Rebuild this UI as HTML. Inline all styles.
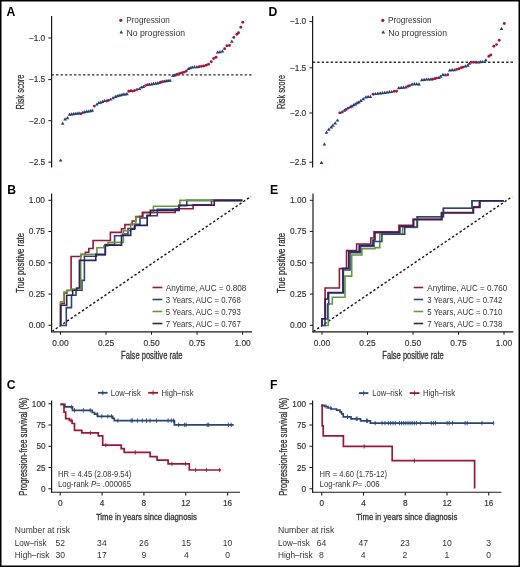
<!DOCTYPE html>
<html><head><meta charset="utf-8"><title>Figure</title>
<style>
html,body{margin:0;padding:0;background:#fff;}
body{width:520px;height:567px;overflow:hidden;}
svg{display:block;font-family:"Liberation Sans", sans-serif;will-change:transform;}
</style></head>
<body>
<svg width="520" height="567" viewBox="0 0 520 567">
<rect width="520" height="567" fill="#fff"/>
<text x="6.6" y="15.8" font-size="12.2" fill="#000" font-weight="bold">A</text>
<text x="268.5" y="15.8" font-size="12.2" fill="#000" font-weight="bold">D</text>
<text x="7.2" y="193.8" font-size="12.2" fill="#000" font-weight="bold">B</text>
<text x="270.1" y="193.7" font-size="12.2" fill="#000" font-weight="bold">E</text>
<text x="6.8" y="388.7" font-size="12.2" fill="#000" font-weight="bold">C</text>
<text x="270.1" y="388.7" font-size="12.2" fill="#000" font-weight="bold">F</text>
<line x1="51.6" y1="16" x2="51.6" y2="167.5" stroke="#1a1a1a" stroke-width="1.2"/>
<line x1="48.3" y1="38" x2="51.5" y2="38" stroke="#1a1a1a" stroke-width="1"/>
<text x="45.2" y="40.8" font-size="8.8" text-anchor="end" fill="#333" font-weight="normal" textLength="16.4" lengthAdjust="spacingAndGlyphs" stroke="#333" stroke-width="0.18">−1.0</text>
<line x1="48.3" y1="79.6" x2="51.5" y2="79.6" stroke="#1a1a1a" stroke-width="1"/>
<text x="45.2" y="82.4" font-size="8.8" text-anchor="end" fill="#333" font-weight="normal" textLength="16.4" lengthAdjust="spacingAndGlyphs" stroke="#333" stroke-width="0.18">−1.5</text>
<line x1="48.3" y1="120.7" x2="51.5" y2="120.7" stroke="#1a1a1a" stroke-width="1"/>
<text x="45.2" y="123.5" font-size="8.8" text-anchor="end" fill="#333" font-weight="normal" textLength="16.4" lengthAdjust="spacingAndGlyphs" stroke="#333" stroke-width="0.18">−2.0</text>
<line x1="48.3" y1="162.2" x2="51.5" y2="162.2" stroke="#1a1a1a" stroke-width="1"/>
<text x="45.2" y="165.0" font-size="8.8" text-anchor="end" fill="#333" font-weight="normal" textLength="16.4" lengthAdjust="spacingAndGlyphs" stroke="#333" stroke-width="0.18">−2.5</text>
<text x="24.0" y="92" font-size="10.3" text-anchor="middle" fill="#333" font-weight="normal" textLength="35" lengthAdjust="spacingAndGlyphs" transform="rotate(-90 24.0 92)" stroke="#333" stroke-width="0.3">Risk score</text>
<line x1="51.56" y1="74.85" x2="252.5" y2="74.85" stroke="#2c2c2c" stroke-width="1.45" stroke-dasharray="2.4 2.09"/>
<circle cx="120.8" cy="20.3" r="1.6" fill="#A3173C"/>
<text x="126.2" y="23.3" font-size="8.2" text-anchor="start" fill="#333" font-weight="normal" textLength="43.6" lengthAdjust="spacingAndGlyphs">Progression</text>
<path d="M121.3,30.2 L123.1,33.4 L119.5,33.4 Z" fill="#263F72"/>
<text x="126.4" y="35.5" font-size="8.2" text-anchor="start" fill="#333" font-weight="normal" textLength="58.8" lengthAdjust="spacingAndGlyphs">No progression</text>
<path d="M60.6,158.4 L62.5,161.6 L58.8,161.6 Z" fill="#263F72"/>
<path d="M62.7,121.6 L64.5,124.8 L60.9,124.8 Z" fill="#263F72"/>
<path d="M65.1,117.3 L66.9,120.5 L63.2,120.5 Z" fill="#263F72"/>
<path d="M67.5,116.1 L69.3,119.3 L65.7,119.3 Z" fill="#263F72"/>
<path d="M69.5,112.5 L71.3,115.7 L67.7,115.7 Z" fill="#263F72"/>
<path d="M71.4,112.3 L73.2,115.5 L69.6,115.5 Z" fill="#263F72"/>
<path d="M73.3,112.0 L75.1,115.2 L71.5,115.2 Z" fill="#263F72"/>
<path d="M75.2,111.8 L77.0,115.0 L73.4,115.0 Z" fill="#263F72"/>
<path d="M77.2,111.5 L79.0,114.7 L75.4,114.7 Z" fill="#263F72"/>
<path d="M79.1,111.3 L80.9,114.5 L77.2,114.5 Z" fill="#263F72"/>
<circle cx="81.0" cy="113.8" r="1.45" fill="#A3173C"/>
<path d="M82.9,110.5 L84.8,113.7 L81.1,113.7 Z" fill="#263F72"/>
<path d="M84.8,110.1 L86.6,113.3 L83.0,113.3 Z" fill="#263F72"/>
<path d="M86.8,109.6 L88.6,112.8 L85.0,112.8 Z" fill="#263F72"/>
<path d="M88.7,109.4 L90.5,112.6 L86.9,112.6 Z" fill="#263F72"/>
<path d="M90.6,109.1 L92.4,112.3 L88.8,112.3 Z" fill="#263F72"/>
<path d="M92.3,108.6 L94.1,111.8 L90.5,111.8 Z" fill="#263F72"/>
<circle cx="94.3" cy="106.1" r="1.45" fill="#A3173C"/>
<path d="M96.9,102.4 L98.8,105.6 L95.1,105.6 Z" fill="#263F72"/>
<path d="M98.8,100.9 L100.6,104.1 L97.0,104.1 Z" fill="#263F72"/>
<path d="M100.7,100.5 L102.5,103.7 L98.9,103.7 Z" fill="#263F72"/>
<path d="M102.6,99.8 L104.4,103.0 L100.8,103.0 Z" fill="#263F72"/>
<path d="M104.5,98.9 L106.3,102.1 L102.7,102.1 Z" fill="#263F72"/>
<circle cx="106.7" cy="101.0" r="1.45" fill="#A3173C"/>
<circle cx="108.4" cy="100.4" r="1.45" fill="#A3173C"/>
<path d="M110.6,97.4 L112.4,100.6 L108.8,100.6 Z" fill="#263F72"/>
<path d="M113.0,96.0 L114.8,99.2 L111.2,99.2 Z" fill="#263F72"/>
<path d="M115.4,94.7 L117.2,97.9 L113.6,97.9 Z" fill="#263F72"/>
<path d="M117.3,94.1 L119.1,97.3 L115.5,97.3 Z" fill="#263F72"/>
<path d="M119.2,93.6 L121.0,96.8 L117.4,96.8 Z" fill="#263F72"/>
<path d="M121.2,93.1 L123.0,96.3 L119.4,96.3 Z" fill="#263F72"/>
<path d="M123.1,92.6 L124.9,95.8 L121.2,95.8 Z" fill="#263F72"/>
<path d="M125.0,92.4 L126.8,95.6 L123.2,95.6 Z" fill="#263F72"/>
<path d="M126.9,92.1 L128.8,95.3 L125.1,95.3 Z" fill="#263F72"/>
<circle cx="128.8" cy="91.3" r="1.45" fill="#A3173C"/>
<circle cx="130.8" cy="90.8" r="1.45" fill="#A3173C"/>
<circle cx="132.7" cy="91.1" r="1.45" fill="#A3173C"/>
<circle cx="134.6" cy="90.6" r="1.45" fill="#A3173C"/>
<circle cx="137.0" cy="89.6" r="1.45" fill="#A3173C"/>
<path d="M139.4,86.9 L141.2,90.1 L137.6,90.1 Z" fill="#263F72"/>
<path d="M141.3,85.4 L143.2,88.6 L139.5,88.6 Z" fill="#263F72"/>
<path d="M143.3,84.7 L145.2,87.9 L141.5,87.9 Z" fill="#263F72"/>
<circle cx="145.5" cy="85.6" r="1.45" fill="#A3173C"/>
<circle cx="147.6" cy="84.8" r="1.45" fill="#A3173C"/>
<path d="M149.6,82.5 L151.4,85.7 L147.8,85.7 Z" fill="#263F72"/>
<path d="M151.6,82.2 L153.4,85.4 L149.8,85.4 Z" fill="#263F72"/>
<path d="M153.5,81.8 L155.3,85.0 L151.7,85.0 Z" fill="#263F72"/>
<path d="M155.5,81.5 L157.3,84.7 L153.7,84.7 Z" fill="#263F72"/>
<path d="M157.4,81.2 L159.2,84.4 L155.6,84.4 Z" fill="#263F72"/>
<path d="M159.2,80.9 L161.0,84.1 L157.3,84.1 Z" fill="#263F72"/>
<circle cx="160.8" cy="82.2" r="1.45" fill="#A3173C"/>
<circle cx="162.5" cy="81.7" r="1.45" fill="#A3173C"/>
<path d="M164.3,79.4 L166.2,82.6 L162.5,82.6 Z" fill="#263F72"/>
<path d="M166.2,79.0 L168.0,82.2 L164.3,82.2 Z" fill="#263F72"/>
<path d="M168.1,78.7 L169.9,81.9 L166.2,81.9 Z" fill="#263F72"/>
<path d="M170.0,78.5 L171.8,81.7 L168.2,81.7 Z" fill="#263F72"/>
<path d="M172.9,73.7 L174.8,76.9 L171.1,76.9 Z" fill="#263F72"/>
<path d="M174.8,73.2 L176.7,76.4 L173.0,76.4 Z" fill="#263F72"/>
<circle cx="176.7" cy="74.5" r="1.45" fill="#A3173C"/>
<circle cx="178.7" cy="74.0" r="1.45" fill="#A3173C"/>
<circle cx="180.6" cy="73.1" r="1.45" fill="#A3173C"/>
<circle cx="182.5" cy="72.6" r="1.45" fill="#A3173C"/>
<circle cx="184.4" cy="72.1" r="1.45" fill="#A3173C"/>
<circle cx="186.3" cy="71.1" r="1.45" fill="#A3173C"/>
<path d="M188.3,66.9 L190.2,70.1 L186.5,70.1 Z" fill="#263F72"/>
<path d="M190.2,66.0 L192.0,69.2 L188.3,69.2 Z" fill="#263F72"/>
<path d="M192.2,65.4 L194.0,68.6 L190.3,68.6 Z" fill="#263F72"/>
<path d="M194.4,65.0 L196.2,68.2 L192.6,68.2 Z" fill="#263F72"/>
<path d="M196.8,65.0 L198.7,68.2 L195.0,68.2 Z" fill="#263F72"/>
<circle cx="199.2" cy="66.8" r="1.45" fill="#A3173C"/>
<circle cx="201.5" cy="66.3" r="1.45" fill="#A3173C"/>
<circle cx="203.8" cy="66.0" r="1.45" fill="#A3173C"/>
<circle cx="206.2" cy="65.2" r="1.45" fill="#A3173C"/>
<circle cx="208.5" cy="64.2" r="1.45" fill="#A3173C"/>
<circle cx="211.3" cy="61.7" r="1.45" fill="#A3173C"/>
<circle cx="213.7" cy="58.5" r="1.45" fill="#A3173C"/>
<circle cx="216.0" cy="57.3" r="1.45" fill="#A3173C"/>
<path d="M217.7,50.3 L219.5,53.5 L215.8,53.5 Z" fill="#263F72"/>
<path d="M220.0,50.0 L221.8,53.2 L218.2,53.2 Z" fill="#263F72"/>
<path d="M222.5,49.2 L224.3,52.4 L220.7,52.4 Z" fill="#263F72"/>
<circle cx="224.6" cy="48.7" r="1.45" fill="#A3173C"/>
<circle cx="226.9" cy="45.8" r="1.45" fill="#A3173C"/>
<circle cx="229.5" cy="45.5" r="1.45" fill="#A3173C"/>
<path d="M231.8,39.6 L233.7,42.8 L230.0,42.8 Z" fill="#263F72"/>
<circle cx="233.8" cy="37.4" r="1.45" fill="#A3173C"/>
<circle cx="236.9" cy="34.3" r="1.45" fill="#A3173C"/>
<circle cx="238.5" cy="32.8" r="1.45" fill="#A3173C"/>
<circle cx="240.8" cy="27.2" r="1.45" fill="#A3173C"/>
<circle cx="242.8" cy="22.3" r="1.45" fill="#A3173C"/>
<line x1="312.6" y1="16" x2="312.6" y2="167.5" stroke="#1a1a1a" stroke-width="1.2"/>
<line x1="309.4" y1="21.6" x2="312.6" y2="21.6" stroke="#1a1a1a" stroke-width="1"/>
<text x="306.2" y="24.4" font-size="8.8" text-anchor="end" fill="#333" font-weight="normal" textLength="16.4" lengthAdjust="spacingAndGlyphs" stroke="#333" stroke-width="0.18">−1.0</text>
<line x1="309.4" y1="67.8" x2="312.6" y2="67.8" stroke="#1a1a1a" stroke-width="1"/>
<text x="306.2" y="70.6" font-size="8.8" text-anchor="end" fill="#333" font-weight="normal" textLength="16.4" lengthAdjust="spacingAndGlyphs" stroke="#333" stroke-width="0.18">−1.5</text>
<line x1="309.4" y1="113" x2="312.6" y2="113" stroke="#1a1a1a" stroke-width="1"/>
<text x="306.2" y="115.8" font-size="8.8" text-anchor="end" fill="#333" font-weight="normal" textLength="16.4" lengthAdjust="spacingAndGlyphs" stroke="#333" stroke-width="0.18">−2.0</text>
<line x1="309.4" y1="162.2" x2="312.6" y2="162.2" stroke="#1a1a1a" stroke-width="1"/>
<text x="306.2" y="165.0" font-size="8.8" text-anchor="end" fill="#333" font-weight="normal" textLength="16.4" lengthAdjust="spacingAndGlyphs" stroke="#333" stroke-width="0.18">−2.5</text>
<text x="285.2" y="92" font-size="10.3" text-anchor="middle" fill="#333" font-weight="normal" textLength="34" lengthAdjust="spacingAndGlyphs" transform="rotate(-90 285.2 92)" stroke="#333" stroke-width="0.3">Risk score</text>
<line x1="312.7" y1="62.2" x2="514" y2="62.2" stroke="#2c2c2c" stroke-width="1.45" stroke-dasharray="2.4 2.097"/>
<circle cx="382.8" cy="20.4" r="1.6" fill="#A3173C"/>
<text x="388" y="23.4" font-size="8.2" text-anchor="start" fill="#333" font-weight="normal" textLength="43.6" lengthAdjust="spacingAndGlyphs">Progression</text>
<path d="M383.2,30.2 L385.1,33.4 L381.3,33.4 Z" fill="#263F72"/>
<text x="388.2" y="35.6" font-size="8.2" text-anchor="start" fill="#333" font-weight="normal" textLength="58.8" lengthAdjust="spacingAndGlyphs">No progression</text>
<path d="M321.5,160.7 L323.4,163.9 L319.6,163.9 Z" fill="#263F72"/>
<path d="M324.4,142.4 L326.2,145.6 L322.5,145.6 Z" fill="#263F72"/>
<path d="M326.5,130.5 L328.4,133.7 L324.6,133.7 Z" fill="#263F72"/>
<path d="M328.8,127.6 L330.7,130.8 L326.9,130.8 Z" fill="#263F72"/>
<path d="M331.2,125.3 L333.1,128.5 L329.3,128.5 Z" fill="#263F72"/>
<path d="M332.9,123.6 L334.8,126.8 L331.0,126.8 Z" fill="#263F72"/>
<path d="M335.2,121.3 L337.1,124.5 L333.3,124.5 Z" fill="#263F72"/>
<path d="M337.5,118.4 L339.4,121.6 L335.6,121.6 Z" fill="#263F72"/>
<circle cx="339.8" cy="112.9" r="1.45" fill="#A3173C"/>
<path d="M342.1,110.0 L344.0,113.2 L340.2,113.2 Z" fill="#263F72"/>
<path d="M344.4,108.6 L346.2,111.8 L342.5,111.8 Z" fill="#263F72"/>
<circle cx="346.2" cy="109.5" r="1.45" fill="#A3173C"/>
<circle cx="348.2" cy="108.1" r="1.45" fill="#A3173C"/>
<path d="M350.2,105.1 L352.1,108.3 L348.3,108.3 Z" fill="#263F72"/>
<path d="M351.9,104.2 L353.8,107.4 L350.0,107.4 Z" fill="#263F72"/>
<path d="M353.7,103.0 L355.6,106.2 L351.8,106.2 Z" fill="#263F72"/>
<path d="M355.4,102.2 L357.2,105.4 L353.5,105.4 Z" fill="#263F72"/>
<path d="M357.1,101.1 L359.0,104.3 L355.2,104.3 Z" fill="#263F72"/>
<path d="M358.8,100.3 L360.7,103.5 L356.9,103.5 Z" fill="#263F72"/>
<path d="M360.9,98.8 L362.8,102.0 L359.0,102.0 Z" fill="#263F72"/>
<path d="M363.2,97.0 L365.1,100.2 L361.3,100.2 Z" fill="#263F72"/>
<path d="M365.8,95.3 L367.7,98.5 L363.9,98.5 Z" fill="#263F72"/>
<path d="M368.1,94.7 L370.0,97.9 L366.2,97.9 Z" fill="#263F72"/>
<path d="M370.4,94.7 L372.2,97.9 L368.5,97.9 Z" fill="#263F72"/>
<circle cx="373.2" cy="94.2" r="1.45" fill="#A3173C"/>
<path d="M375.5,91.9 L377.4,95.1 L373.6,95.1 Z" fill="#263F72"/>
<path d="M377.8,91.5 L379.7,94.7 L375.9,94.7 Z" fill="#263F72"/>
<path d="M380.2,91.3 L382.1,94.5 L378.3,94.5 Z" fill="#263F72"/>
<path d="M382.5,91.0 L384.4,94.2 L380.6,94.2 Z" fill="#263F72"/>
<path d="M384.8,90.8 L386.7,94.0 L382.9,94.0 Z" fill="#263F72"/>
<path d="M387.1,90.4 L389.0,93.6 L385.2,93.6 Z" fill="#263F72"/>
<path d="M389.4,90.1 L391.2,93.3 L387.5,93.3 Z" fill="#263F72"/>
<path d="M391.7,89.9 L393.6,93.1 L389.8,93.1 Z" fill="#263F72"/>
<circle cx="394.2" cy="91.3" r="1.45" fill="#A3173C"/>
<circle cx="396.5" cy="91.3" r="1.45" fill="#A3173C"/>
<path d="M398.8,86.1 L400.7,89.3 L396.9,89.3 Z" fill="#263F72"/>
<path d="M401.2,85.7 L403.1,88.9 L399.3,88.9 Z" fill="#263F72"/>
<path d="M403.5,85.5 L405.4,88.7 L401.6,88.7 Z" fill="#263F72"/>
<path d="M405.8,85.3 L407.7,88.5 L403.9,88.5 Z" fill="#263F72"/>
<circle cx="408.1" cy="86.2" r="1.45" fill="#A3173C"/>
<circle cx="409.8" cy="85.6" r="1.45" fill="#A3173C"/>
<path d="M412.1,82.3 L414.0,85.5 L410.2,85.5 Z" fill="#263F72"/>
<path d="M414.4,82.0 L416.2,85.2 L412.5,85.2 Z" fill="#263F72"/>
<path d="M416.7,82.0 L418.6,85.2 L414.8,85.2 Z" fill="#263F72"/>
<path d="M419.0,82.3 L420.9,85.5 L417.1,85.5 Z" fill="#263F72"/>
<path d="M421.9,78.0 L423.8,81.2 L420.0,81.2 Z" fill="#263F72"/>
<path d="M424.2,77.7 L426.1,80.9 L422.3,80.9 Z" fill="#263F72"/>
<path d="M426.5,77.4 L428.4,80.6 L424.6,80.6 Z" fill="#263F72"/>
<path d="M428.6,77.4 L430.5,80.6 L426.8,80.6 Z" fill="#263F72"/>
<path d="M430.6,77.4 L432.5,80.6 L428.8,80.6 Z" fill="#263F72"/>
<circle cx="432.5" cy="79.2" r="1.45" fill="#A3173C"/>
<circle cx="434.8" cy="78.7" r="1.45" fill="#A3173C"/>
<circle cx="436.5" cy="78.1" r="1.45" fill="#A3173C"/>
<path d="M438.8,75.7 L440.7,78.9 L436.9,78.9 Z" fill="#263F72"/>
<path d="M440.6,74.5 L442.5,77.7 L438.8,77.7 Z" fill="#263F72"/>
<path d="M442.9,72.8 L444.8,76.0 L441.0,76.0 Z" fill="#263F72"/>
<path d="M445.2,73.0 L447.1,76.2 L443.3,76.2 Z" fill="#263F72"/>
<circle cx="447.8" cy="74.8" r="1.45" fill="#A3173C"/>
<path d="M449.8,68.2 L451.7,71.4 L447.9,71.4 Z" fill="#263F72"/>
<path d="M452.1,68.0 L454.0,71.2 L450.2,71.2 Z" fill="#263F72"/>
<path d="M454.4,68.0 L456.2,71.2 L452.5,71.2 Z" fill="#263F72"/>
<circle cx="456.7" cy="69.4" r="1.45" fill="#A3173C"/>
<circle cx="459.0" cy="68.8" r="1.45" fill="#A3173C"/>
<circle cx="461.3" cy="67.7" r="1.45" fill="#A3173C"/>
<circle cx="463.1" cy="67.1" r="1.45" fill="#A3173C"/>
<path d="M465.4,64.2 L467.2,67.4 L463.5,67.4 Z" fill="#263F72"/>
<path d="M467.7,63.6 L469.6,66.8 L465.8,66.8 Z" fill="#263F72"/>
<path d="M469.4,61.5 L471.2,64.7 L467.5,64.7 Z" fill="#263F72"/>
<circle cx="471.2" cy="62.2" r="1.45" fill="#A3173C"/>
<circle cx="473.5" cy="62.2" r="1.45" fill="#A3173C"/>
<circle cx="475.8" cy="62.2" r="1.45" fill="#A3173C"/>
<path d="M478.1,60.4 L480.0,63.6 L476.2,63.6 Z" fill="#263F72"/>
<path d="M480.4,60.1 L482.2,63.3 L478.5,63.3 Z" fill="#263F72"/>
<path d="M482.7,59.9 L484.6,63.1 L480.8,63.1 Z" fill="#263F72"/>
<path d="M485.8,58.2 L487.7,61.4 L483.9,61.4 Z" fill="#263F72"/>
<circle cx="488.9" cy="56.2" r="1.45" fill="#A3173C"/>
<circle cx="490.8" cy="54.9" r="1.45" fill="#A3173C"/>
<circle cx="493.8" cy="46.2" r="1.45" fill="#A3173C"/>
<circle cx="496.5" cy="44.6" r="1.45" fill="#A3173C"/>
<circle cx="499.2" cy="40.3" r="1.45" fill="#A3173C"/>
<path d="M501.5,26.7 L503.4,29.9 L499.6,29.9 Z" fill="#263F72"/>
<circle cx="504.3" cy="23.5" r="1.45" fill="#A3173C"/>
<line x1="51.6" y1="193.5" x2="51.6" y2="332.2" stroke="#1a1a1a" stroke-width="1.2"/>
<line x1="48.4" y1="200.3" x2="51.6" y2="200.3" stroke="#1a1a1a" stroke-width="1"/>
<text x="45.0" y="203.1" font-size="9.1" text-anchor="end" fill="#333" font-weight="normal" textLength="16.3" lengthAdjust="spacingAndGlyphs" stroke="#333" stroke-width="0.18">1.00</text>
<line x1="48.4" y1="231.55" x2="51.6" y2="231.55" stroke="#1a1a1a" stroke-width="1"/>
<text x="45.0" y="234.35" font-size="9.1" text-anchor="end" fill="#333" font-weight="normal" textLength="16.3" lengthAdjust="spacingAndGlyphs" stroke="#333" stroke-width="0.18">0.75</text>
<line x1="48.4" y1="262.8" x2="51.6" y2="262.8" stroke="#1a1a1a" stroke-width="1"/>
<text x="45.0" y="265.6" font-size="9.1" text-anchor="end" fill="#333" font-weight="normal" textLength="16.3" lengthAdjust="spacingAndGlyphs" stroke="#333" stroke-width="0.18">0.50</text>
<line x1="48.4" y1="294.05" x2="51.6" y2="294.05" stroke="#1a1a1a" stroke-width="1"/>
<text x="45.0" y="296.85" font-size="9.1" text-anchor="end" fill="#333" font-weight="normal" textLength="16.3" lengthAdjust="spacingAndGlyphs" stroke="#333" stroke-width="0.18">0.25</text>
<line x1="48.4" y1="325.3" x2="51.6" y2="325.3" stroke="#1a1a1a" stroke-width="1"/>
<text x="45.0" y="328.1" font-size="9.1" text-anchor="end" fill="#333" font-weight="normal" textLength="16.3" lengthAdjust="spacingAndGlyphs" stroke="#333" stroke-width="0.18">0.00</text>
<line x1="51.0" y1="331.8" x2="252" y2="331.8" stroke="#1a1a1a" stroke-width="1.2"/>
<line x1="60.5" y1="331.8" x2="60.5" y2="334.8" stroke="#1a1a1a" stroke-width="1"/>
<text x="60.5" y="345.8" font-size="9.1" text-anchor="middle" fill="#333" font-weight="normal" textLength="16.3" lengthAdjust="spacingAndGlyphs" stroke="#333" stroke-width="0.18">0.00</text>
<line x1="106.03" y1="331.8" x2="106.03" y2="334.8" stroke="#1a1a1a" stroke-width="1"/>
<text x="106.03" y="345.8" font-size="9.1" text-anchor="middle" fill="#333" font-weight="normal" textLength="16.3" lengthAdjust="spacingAndGlyphs" stroke="#333" stroke-width="0.18">0.25</text>
<line x1="151.55" y1="331.8" x2="151.55" y2="334.8" stroke="#1a1a1a" stroke-width="1"/>
<text x="151.55" y="345.8" font-size="9.1" text-anchor="middle" fill="#333" font-weight="normal" textLength="16.3" lengthAdjust="spacingAndGlyphs" stroke="#333" stroke-width="0.18">0.50</text>
<line x1="197.07" y1="331.8" x2="197.07" y2="334.8" stroke="#1a1a1a" stroke-width="1"/>
<text x="197.07" y="345.8" font-size="9.1" text-anchor="middle" fill="#333" font-weight="normal" textLength="16.3" lengthAdjust="spacingAndGlyphs" stroke="#333" stroke-width="0.18">0.75</text>
<line x1="242.6" y1="331.8" x2="242.6" y2="334.8" stroke="#1a1a1a" stroke-width="1"/>
<text x="242.6" y="345.8" font-size="9.1" text-anchor="middle" fill="#333" font-weight="normal" textLength="16.3" lengthAdjust="spacingAndGlyphs" stroke="#333" stroke-width="0.18">1.00</text>
<line x1="52.5" y1="331.02" x2="251" y2="196.44" stroke="#1a1a1a" stroke-width="1.45" stroke-dasharray="2.4 2.13" stroke-dashoffset="0.65"/>
<text x="23.8" y="263" font-size="10.2" text-anchor="middle" fill="#333" font-weight="normal" textLength="60" lengthAdjust="spacingAndGlyphs" transform="rotate(-90 23.8 263)" stroke="#333" stroke-width="0.3">True positive rate</text>
<text x="151.8" y="359.3" font-size="10.2" text-anchor="middle" fill="#333" font-weight="normal" textLength="61.4" lengthAdjust="spacingAndGlyphs" stroke="#333" stroke-width="0.3">False positive rate</text>
<line x1="313" y1="193.5" x2="313" y2="332.2" stroke="#1a1a1a" stroke-width="1.2"/>
<line x1="309.8" y1="200.3" x2="313" y2="200.3" stroke="#1a1a1a" stroke-width="1"/>
<text x="306.3" y="203.1" font-size="9.1" text-anchor="end" fill="#333" font-weight="normal" textLength="16.3" lengthAdjust="spacingAndGlyphs" stroke="#333" stroke-width="0.18">1.00</text>
<line x1="309.8" y1="231.55" x2="313" y2="231.55" stroke="#1a1a1a" stroke-width="1"/>
<text x="306.3" y="234.35" font-size="9.1" text-anchor="end" fill="#333" font-weight="normal" textLength="16.3" lengthAdjust="spacingAndGlyphs" stroke="#333" stroke-width="0.18">0.75</text>
<line x1="309.8" y1="262.8" x2="313" y2="262.8" stroke="#1a1a1a" stroke-width="1"/>
<text x="306.3" y="265.6" font-size="9.1" text-anchor="end" fill="#333" font-weight="normal" textLength="16.3" lengthAdjust="spacingAndGlyphs" stroke="#333" stroke-width="0.18">0.50</text>
<line x1="309.8" y1="294.05" x2="313" y2="294.05" stroke="#1a1a1a" stroke-width="1"/>
<text x="306.3" y="296.85" font-size="9.1" text-anchor="end" fill="#333" font-weight="normal" textLength="16.3" lengthAdjust="spacingAndGlyphs" stroke="#333" stroke-width="0.18">0.25</text>
<line x1="309.8" y1="325.3" x2="313" y2="325.3" stroke="#1a1a1a" stroke-width="1"/>
<text x="306.3" y="328.1" font-size="9.1" text-anchor="end" fill="#333" font-weight="normal" textLength="16.3" lengthAdjust="spacingAndGlyphs" stroke="#333" stroke-width="0.18">0.00</text>
<line x1="312.4" y1="331.8" x2="513.3" y2="331.8" stroke="#1a1a1a" stroke-width="1.2"/>
<line x1="322" y1="331.8" x2="322" y2="334.8" stroke="#1a1a1a" stroke-width="1"/>
<text x="322" y="345.8" font-size="9.1" text-anchor="middle" fill="#333" font-weight="normal" textLength="16.3" lengthAdjust="spacingAndGlyphs" stroke="#333" stroke-width="0.18">0.00</text>
<line x1="367.5" y1="331.8" x2="367.5" y2="334.8" stroke="#1a1a1a" stroke-width="1"/>
<text x="367.5" y="345.8" font-size="9.1" text-anchor="middle" fill="#333" font-weight="normal" textLength="16.3" lengthAdjust="spacingAndGlyphs" stroke="#333" stroke-width="0.18">0.25</text>
<line x1="413.0" y1="331.8" x2="413.0" y2="334.8" stroke="#1a1a1a" stroke-width="1"/>
<text x="413.0" y="345.8" font-size="9.1" text-anchor="middle" fill="#333" font-weight="normal" textLength="16.3" lengthAdjust="spacingAndGlyphs" stroke="#333" stroke-width="0.18">0.50</text>
<line x1="458.5" y1="331.8" x2="458.5" y2="334.8" stroke="#1a1a1a" stroke-width="1"/>
<text x="458.5" y="345.8" font-size="9.1" text-anchor="middle" fill="#333" font-weight="normal" textLength="16.3" lengthAdjust="spacingAndGlyphs" stroke="#333" stroke-width="0.18">0.75</text>
<line x1="504" y1="331.8" x2="504" y2="334.8" stroke="#1a1a1a" stroke-width="1"/>
<text x="504" y="345.8" font-size="9.1" text-anchor="middle" fill="#333" font-weight="normal" textLength="16.3" lengthAdjust="spacingAndGlyphs" stroke="#333" stroke-width="0.18">1.00</text>
<line x1="313.9" y1="331.09" x2="512.3" y2="196.58" stroke="#1a1a1a" stroke-width="1.45" stroke-dasharray="2.4 2.13" stroke-dashoffset="0.64"/>
<text x="285" y="263" font-size="10.2" text-anchor="middle" fill="#333" font-weight="normal" textLength="60" lengthAdjust="spacingAndGlyphs" transform="rotate(-90 285 263)" stroke="#333" stroke-width="0.3">True positive rate</text>
<text x="413.0" y="359.3" font-size="10.2" text-anchor="middle" fill="#333" font-weight="normal" textLength="61.4" lengthAdjust="spacingAndGlyphs" stroke="#333" stroke-width="0.3">False positive rate</text>
<path d="M60.5,325 V303.5 H64.3 V293 H67 V290.5 H71.1 V256.5 H80.9 V254.5 H85.3 V252.3 H88.8 V248.5 H93.1 V240.5 H110.4 V232.4 H121.5 V228.8 H124.9 V224.6 H132.2 V221 H135.8 V216.5 H142.6 V212.5 H175.2 V208.7 H193.1 V204.7 H211.5 V200.4 H242.3" fill="none" stroke="#971839" stroke-width="1.6"/>
<path d="M60.5,325.5 H66.3 V307.6 H71.5 V295.3 H76 V290.3 H82 V280.4 H84.4 V256.3 H96.5 V255 H105.2 V244.6 H114.6 V235.8 H123 V234 H128 V228.5 H135 V224.4 H140 V218 H147 V215.8 H157.3 V209.4 H178.7 V205.6 H186.8 V200.4 H242.3" fill="none" stroke="#284576" stroke-width="1.6"/>
<path d="M60.5,325 V301.7 H64 V292 H67.1 V290.2 H71 V289 H80.7 V254.3 H96.9 V247.8 H103.8 V246 H108 V242.4 H123.4 V230.8 H130.7 V224 H135.7 V217.3 H139.2 V216.5 H142.6 V212.5 H153.4 V206.3 H179.8 V200.4 H242.3" fill="none" stroke="#64993A" stroke-width="1.6"/>
<path d="M139.2,216.5 H142.6 V212.5 H153.4" fill="none" stroke="#971839" stroke-width="1.6"/>
<path d="M60.8,325.5 V305.2 H66.7 V295.3 H72.7 V290.2 H76.6 V288 H79.4 V260.4 H95.8 V254.3 H105.4 V245.1 H121.5 V235.4 H130.7 V229.2 H134.5 V225.4 H147.2 V215.4 H150.3 V210.4 H179.1 V205.3 H214.2 V200.4 H242.3" fill="none" stroke="#33205E" stroke-width="1.6"/>
<path d="M322,325.5 V318.7 H325.1 V288 H339.4 V268.6 H346.5 V250.6 H356.6 V244 H370.8 V238 H374 V231.7 H398.9 V225.3 H413.1 V219 H441.3 V212.5 H473 V206.8 H479.3 V200.8 H504" fill="none" stroke="#971839" stroke-width="1.6"/>
<path d="M322,325.5 H328.3 V304 H332.3 V297.3 H345 V276.1 H351.7 V255 H361.9 V248.8 H375 V247.6 H379.8 V234.3 H402.6 V227.5 H416.9 V216.7 H443.4 V208.2 H472 V200.8 H504" fill="none" stroke="#64993A" stroke-width="1.6"/>
<path d="M322,325.5 H325 V319 H327.5 V304 H328.7 V292.9 H343.4 V270 H350 V252.8 H360.5 V246.5 H374 V241.5 H381.9 V234.3 H404.7 V227 H417.4 V216.7 H443.4 V208.2 H472 V200.8 H504" fill="none" stroke="#284576" stroke-width="1.6"/>
<path d="M322,325.5 V318.7 H325.1 V299 H327.9 V292.5 H342.9 V268.2 H348.7 V251.5 H359.2 V245.3 H372.9 V240 H375 V232.8 H399.9 V226.4 H413.7 V219.8 H442 V213 H473.5 V207.5 H480 V200.8 H504" fill="none" stroke="#33205E" stroke-width="1.6"/>
<line x1="152.5" y1="287.5" x2="162.4" y2="287.5" stroke="#971839" stroke-width="1.6"/>
<text x="165.8" y="290.5" font-size="8.2" text-anchor="start" fill="#333" font-weight="normal" textLength="80.5" lengthAdjust="spacingAndGlyphs">Anytime, AUC = 0.808</text>
<line x1="152.5" y1="299.5" x2="162.4" y2="299.5" stroke="#284576" stroke-width="1.6"/>
<text x="165.8" y="302.5" font-size="8.2" text-anchor="start" fill="#333" font-weight="normal" textLength="75" lengthAdjust="spacingAndGlyphs">3 Years, AUC = 0.768</text>
<line x1="152.5" y1="311.5" x2="162.4" y2="311.5" stroke="#64993A" stroke-width="1.6"/>
<text x="165.8" y="314.5" font-size="8.2" text-anchor="start" fill="#333" font-weight="normal" textLength="75" lengthAdjust="spacingAndGlyphs">5 Years, AUC = 0.793</text>
<line x1="152.5" y1="323.5" x2="162.4" y2="323.5" stroke="#33205E" stroke-width="1.6"/>
<text x="165.8" y="326.5" font-size="8.2" text-anchor="start" fill="#333" font-weight="normal" textLength="75" lengthAdjust="spacingAndGlyphs">7 Years, AUC = 0.767</text>
<line x1="413.7" y1="287.5" x2="423.2" y2="287.5" stroke="#971839" stroke-width="1.6"/>
<text x="427.3" y="290.5" font-size="8.2" text-anchor="start" fill="#333" font-weight="normal" textLength="80" lengthAdjust="spacingAndGlyphs">Anytime, AUC = 0.760</text>
<line x1="413.7" y1="299.5" x2="423.2" y2="299.5" stroke="#284576" stroke-width="1.6"/>
<text x="427.3" y="302.5" font-size="8.2" text-anchor="start" fill="#333" font-weight="normal" textLength="75" lengthAdjust="spacingAndGlyphs">3 Years, AUC = 0.742</text>
<line x1="413.7" y1="311.5" x2="423.2" y2="311.5" stroke="#64993A" stroke-width="1.6"/>
<text x="427.3" y="314.5" font-size="8.2" text-anchor="start" fill="#333" font-weight="normal" textLength="75" lengthAdjust="spacingAndGlyphs">5 Years, AUC = 0.710</text>
<line x1="413.7" y1="323.5" x2="423.2" y2="323.5" stroke="#33205E" stroke-width="1.6"/>
<text x="427.3" y="326.5" font-size="8.2" text-anchor="start" fill="#333" font-weight="normal" textLength="75" lengthAdjust="spacingAndGlyphs">7 Years, AUC = 0.738</text>
<line x1="51.6" y1="400.5" x2="51.6" y2="492.8" stroke="#1a1a1a" stroke-width="1.2"/>
<line x1="48.4" y1="403.75" x2="51.6" y2="403.75" stroke="#1a1a1a" stroke-width="1"/>
<text x="45.5" y="406.75" font-size="8.2" text-anchor="end" fill="#333" font-weight="normal" stroke="#333" stroke-width="0.18">100</text>
<line x1="48.4" y1="425.0" x2="51.6" y2="425.0" stroke="#1a1a1a" stroke-width="1"/>
<text x="45.5" y="428.0" font-size="8.2" text-anchor="end" fill="#333" font-weight="normal" stroke="#333" stroke-width="0.18">75</text>
<line x1="48.4" y1="446.25" x2="51.6" y2="446.25" stroke="#1a1a1a" stroke-width="1"/>
<text x="45.5" y="449.25" font-size="8.2" text-anchor="end" fill="#333" font-weight="normal" stroke="#333" stroke-width="0.18">50</text>
<line x1="48.4" y1="467.5" x2="51.6" y2="467.5" stroke="#1a1a1a" stroke-width="1"/>
<text x="45.5" y="470.5" font-size="8.2" text-anchor="end" fill="#333" font-weight="normal" stroke="#333" stroke-width="0.18">25</text>
<line x1="48.4" y1="488.75" x2="51.6" y2="488.75" stroke="#1a1a1a" stroke-width="1"/>
<text x="45.5" y="491.75" font-size="8.2" text-anchor="end" fill="#333" font-weight="normal" stroke="#333" stroke-width="0.18">0</text>
<line x1="51.0" y1="492.25" x2="240" y2="492.25" stroke="#1a1a1a" stroke-width="1.2"/>
<line x1="60.2" y1="492.2" x2="60.2" y2="495.6" stroke="#1a1a1a" stroke-width="1.1"/>
<text x="60.2" y="506" font-size="8.2" text-anchor="middle" fill="#333" font-weight="normal" stroke="#333" stroke-width="0.18">0</text>
<line x1="102.05" y1="492.2" x2="102.05" y2="495.6" stroke="#1a1a1a" stroke-width="1.1"/>
<text x="102.05" y="506" font-size="8.2" text-anchor="middle" fill="#333" font-weight="normal" stroke="#333" stroke-width="0.18">4</text>
<line x1="143.9" y1="492.2" x2="143.9" y2="495.6" stroke="#1a1a1a" stroke-width="1.1"/>
<text x="143.9" y="506" font-size="8.2" text-anchor="middle" fill="#333" font-weight="normal" stroke="#333" stroke-width="0.18">8</text>
<line x1="185.75" y1="492.2" x2="185.75" y2="495.6" stroke="#1a1a1a" stroke-width="1.1"/>
<text x="185.75" y="506" font-size="8.2" text-anchor="middle" fill="#333" font-weight="normal" stroke="#333" stroke-width="0.18">12</text>
<line x1="227.6" y1="492.2" x2="227.6" y2="495.6" stroke="#1a1a1a" stroke-width="1.1"/>
<text x="227.6" y="506" font-size="8.2" text-anchor="middle" fill="#333" font-weight="normal" stroke="#333" stroke-width="0.18">16</text>
<line x1="312.6" y1="400.5" x2="312.6" y2="492.8" stroke="#1a1a1a" stroke-width="1.2"/>
<line x1="309.4" y1="403.75" x2="312.6" y2="403.75" stroke="#1a1a1a" stroke-width="1"/>
<text x="306" y="406.75" font-size="8.2" text-anchor="end" fill="#333" font-weight="normal" stroke="#333" stroke-width="0.18">100</text>
<line x1="309.4" y1="425.0" x2="312.6" y2="425.0" stroke="#1a1a1a" stroke-width="1"/>
<text x="306" y="428.0" font-size="8.2" text-anchor="end" fill="#333" font-weight="normal" stroke="#333" stroke-width="0.18">75</text>
<line x1="309.4" y1="446.25" x2="312.6" y2="446.25" stroke="#1a1a1a" stroke-width="1"/>
<text x="306" y="449.25" font-size="8.2" text-anchor="end" fill="#333" font-weight="normal" stroke="#333" stroke-width="0.18">50</text>
<line x1="309.4" y1="467.5" x2="312.6" y2="467.5" stroke="#1a1a1a" stroke-width="1"/>
<text x="306" y="470.5" font-size="8.2" text-anchor="end" fill="#333" font-weight="normal" stroke="#333" stroke-width="0.18">25</text>
<line x1="309.4" y1="488.75" x2="312.6" y2="488.75" stroke="#1a1a1a" stroke-width="1"/>
<text x="306" y="491.75" font-size="8.2" text-anchor="end" fill="#333" font-weight="normal" stroke="#333" stroke-width="0.18">0</text>
<line x1="312.0" y1="492.25" x2="501.3" y2="492.25" stroke="#1a1a1a" stroke-width="1.2"/>
<line x1="321.75" y1="492.2" x2="321.75" y2="495.6" stroke="#1a1a1a" stroke-width="1.1"/>
<text x="321.75" y="506" font-size="8.2" text-anchor="middle" fill="#333" font-weight="normal" stroke="#333" stroke-width="0.18">0</text>
<line x1="363.5" y1="492.2" x2="363.5" y2="495.6" stroke="#1a1a1a" stroke-width="1.1"/>
<text x="363.5" y="506" font-size="8.2" text-anchor="middle" fill="#333" font-weight="normal" stroke="#333" stroke-width="0.18">4</text>
<line x1="405.25" y1="492.2" x2="405.25" y2="495.6" stroke="#1a1a1a" stroke-width="1.1"/>
<text x="405.25" y="506" font-size="8.2" text-anchor="middle" fill="#333" font-weight="normal" stroke="#333" stroke-width="0.18">8</text>
<line x1="447.0" y1="492.2" x2="447.0" y2="495.6" stroke="#1a1a1a" stroke-width="1.1"/>
<text x="447.0" y="506" font-size="8.2" text-anchor="middle" fill="#333" font-weight="normal" stroke="#333" stroke-width="0.18">12</text>
<line x1="488.75" y1="492.2" x2="488.75" y2="495.6" stroke="#1a1a1a" stroke-width="1.1"/>
<text x="488.75" y="506" font-size="8.2" text-anchor="middle" fill="#333" font-weight="normal" stroke="#333" stroke-width="0.18">16</text>
<text x="26.8" y="446.7" font-size="10" text-anchor="middle" fill="#333" font-weight="normal" textLength="98" lengthAdjust="spacingAndGlyphs" transform="rotate(-90 26.8 446.7)" stroke="#333" stroke-width="0.3">Progression-free survival (%)</text>
<text x="287.0" y="446.7" font-size="10" text-anchor="middle" fill="#333" font-weight="normal" textLength="98" lengthAdjust="spacingAndGlyphs" transform="rotate(-90 287.0 446.7)" stroke="#333" stroke-width="0.3">Progression-free survival (%)</text>
<text x="146.4" y="520.0" font-size="9.6" text-anchor="middle" fill="#333" font-weight="normal" textLength="101" lengthAdjust="spacingAndGlyphs" stroke="#333" stroke-width="0.3">Time in years since diagnosis</text>
<text x="406.8" y="520.0" font-size="9.6" text-anchor="middle" fill="#333" font-weight="normal" textLength="101" lengthAdjust="spacingAndGlyphs" stroke="#333" stroke-width="0.3">Time in years since diagnosis</text>
<line x1="98" y1="392.8" x2="107.5" y2="392.8" stroke="#284576" stroke-width="1.8"/>
<line x1="102.75" y1="390.4" x2="102.75" y2="395.2" stroke="#284576" stroke-width="0.9"/>
<text x="110.7" y="395.8" font-size="8.2" text-anchor="start" fill="#333" font-weight="normal" textLength="30" lengthAdjust="spacingAndGlyphs">Low–risk</text>
<line x1="148.2" y1="392.8" x2="158.0" y2="392.8" stroke="#971839" stroke-width="1.8"/>
<line x1="153.1" y1="390.4" x2="153.1" y2="395.2" stroke="#971839" stroke-width="0.9"/>
<text x="161.5" y="395.8" font-size="8.2" text-anchor="start" fill="#333" font-weight="normal" textLength="32" lengthAdjust="spacingAndGlyphs">High–risk</text>
<line x1="358.9" y1="393.1" x2="368.4" y2="393.1" stroke="#284576" stroke-width="1.8"/>
<line x1="363.65" y1="390.7" x2="363.65" y2="395.5" stroke="#284576" stroke-width="0.9"/>
<text x="372.2" y="396.1" font-size="8.2" text-anchor="start" fill="#333" font-weight="normal" textLength="30" lengthAdjust="spacingAndGlyphs">Low–risk</text>
<line x1="409.7" y1="393.1" x2="419.5" y2="393.1" stroke="#971839" stroke-width="1.8"/>
<line x1="414.6" y1="390.7" x2="414.6" y2="395.5" stroke="#971839" stroke-width="0.9"/>
<text x="423" y="396.1" font-size="8.2" text-anchor="start" fill="#333" font-weight="normal" textLength="32" lengthAdjust="spacingAndGlyphs">High–risk</text>
<path d="M60.4,404.4 H64.8 V406.9 H72.5 V410.3 H92.2 V412.5 H94.5 V414.2 H97.5 V416.3 H112.7 V418.3 H114.3 V420.6 H174.4 V424.9 H233.7" fill="none" stroke="#284576" stroke-width="1.7"/>
<line x1="71.3" y1="404.7" x2="71.3" y2="409.1" stroke="#284576" stroke-width="0.9"/>
<line x1="74.5" y1="408.1" x2="74.5" y2="412.5" stroke="#284576" stroke-width="0.9"/>
<line x1="83.4" y1="408.1" x2="83.4" y2="412.5" stroke="#284576" stroke-width="0.9"/>
<line x1="90.2" y1="408.1" x2="90.2" y2="412.5" stroke="#284576" stroke-width="0.9"/>
<line x1="97.2" y1="412.0" x2="97.2" y2="416.4" stroke="#284576" stroke-width="0.9"/>
<line x1="101.8" y1="414.1" x2="101.8" y2="418.5" stroke="#284576" stroke-width="0.9"/>
<line x1="107.9" y1="414.1" x2="107.9" y2="418.5" stroke="#284576" stroke-width="0.9"/>
<line x1="111.4" y1="414.1" x2="111.4" y2="418.5" stroke="#284576" stroke-width="0.9"/>
<line x1="117.9" y1="418.4" x2="117.9" y2="422.8" stroke="#284576" stroke-width="0.9"/>
<line x1="131.2" y1="418.4" x2="131.2" y2="422.8" stroke="#284576" stroke-width="0.9"/>
<line x1="132.3" y1="418.4" x2="132.3" y2="422.8" stroke="#284576" stroke-width="0.9"/>
<line x1="137.4" y1="418.4" x2="137.4" y2="422.8" stroke="#284576" stroke-width="0.9"/>
<line x1="142.3" y1="418.4" x2="142.3" y2="422.8" stroke="#284576" stroke-width="0.9"/>
<line x1="146.5" y1="418.4" x2="146.5" y2="422.8" stroke="#284576" stroke-width="0.9"/>
<line x1="150.1" y1="418.4" x2="150.1" y2="422.8" stroke="#284576" stroke-width="0.9"/>
<line x1="156.4" y1="418.4" x2="156.4" y2="422.8" stroke="#284576" stroke-width="0.9"/>
<line x1="168.1" y1="418.4" x2="168.1" y2="422.8" stroke="#284576" stroke-width="0.9"/>
<line x1="171.3" y1="418.4" x2="171.3" y2="422.8" stroke="#284576" stroke-width="0.9"/>
<line x1="173.4" y1="418.4" x2="173.4" y2="422.8" stroke="#284576" stroke-width="0.9"/>
<line x1="178.7" y1="422.7" x2="178.7" y2="427.1" stroke="#284576" stroke-width="0.9"/>
<line x1="184.6" y1="422.7" x2="184.6" y2="427.1" stroke="#284576" stroke-width="0.9"/>
<line x1="186.1" y1="422.7" x2="186.1" y2="427.1" stroke="#284576" stroke-width="0.9"/>
<line x1="207.2" y1="422.7" x2="207.2" y2="427.1" stroke="#284576" stroke-width="0.9"/>
<line x1="208.7" y1="422.7" x2="208.7" y2="427.1" stroke="#284576" stroke-width="0.9"/>
<line x1="228.4" y1="422.7" x2="228.4" y2="427.1" stroke="#284576" stroke-width="0.9"/>
<line x1="231.2" y1="422.7" x2="231.2" y2="427.1" stroke="#284576" stroke-width="0.9"/>
<path d="M60.4,404.4 H64 V412.2 H65.7 V418.6 H69.3 V420.3 H72.1 V423.5 H74.5 V430.3 H81.8 V432.8 H98.3 V435.9 H102.7 V445.1 H121.2 V448.7 H124.2 V452.4 H150.1 V456.6 H157.1 V460.1 H168.1 V463.9 H189.3 V470 H221.2" fill="none" stroke="#971839" stroke-width="1.7"/>
<line x1="71" y1="418.1" x2="71" y2="422.5" stroke="#971839" stroke-width="0.9"/>
<line x1="90.3" y1="430.6" x2="90.3" y2="435.0" stroke="#971839" stroke-width="0.9"/>
<line x1="105.8" y1="442.9" x2="105.8" y2="447.3" stroke="#971839" stroke-width="0.9"/>
<line x1="135.3" y1="450.2" x2="135.3" y2="454.6" stroke="#971839" stroke-width="0.9"/>
<line x1="171.9" y1="461.7" x2="171.9" y2="466.1" stroke="#971839" stroke-width="0.9"/>
<line x1="185.6" y1="461.7" x2="185.6" y2="466.1" stroke="#971839" stroke-width="0.9"/>
<line x1="195.6" y1="467.8" x2="195.6" y2="472.2" stroke="#971839" stroke-width="0.9"/>
<line x1="206.3" y1="467.8" x2="206.3" y2="472.2" stroke="#971839" stroke-width="0.9"/>
<line x1="219.6" y1="467.8" x2="219.6" y2="472.2" stroke="#971839" stroke-width="0.9"/>
<path d="M321.2,405.3 H324.5 V406.5 H328 V408 H331 V409 H336.5 V410.2 H340 V411.8 H341.5 V413.8 H343.2 V416.8 H351 V418.8 H360.6 V420.8 H370.4 V423.1 H493.7" fill="none" stroke="#284576" stroke-width="1.7"/>
<line x1="326.1" y1="404.3" x2="326.1" y2="408.7" stroke="#284576" stroke-width="0.9"/>
<line x1="330.9" y1="405.8" x2="330.9" y2="410.2" stroke="#284576" stroke-width="0.9"/>
<line x1="347.5" y1="414.6" x2="347.5" y2="419.0" stroke="#284576" stroke-width="0.9"/>
<line x1="356.2" y1="416.6" x2="356.2" y2="421.0" stroke="#284576" stroke-width="0.9"/>
<line x1="357.2" y1="416.6" x2="357.2" y2="421.0" stroke="#284576" stroke-width="0.9"/>
<line x1="366.6" y1="418.6" x2="366.6" y2="423.0" stroke="#284576" stroke-width="0.9"/>
<line x1="367.6" y1="418.6" x2="367.6" y2="423.0" stroke="#284576" stroke-width="0.9"/>
<line x1="375.2" y1="420.9" x2="375.2" y2="425.3" stroke="#284576" stroke-width="0.9"/>
<line x1="382.1" y1="420.9" x2="382.1" y2="425.3" stroke="#284576" stroke-width="0.9"/>
<line x1="385" y1="420.9" x2="385" y2="425.3" stroke="#284576" stroke-width="0.9"/>
<line x1="388.4" y1="420.9" x2="388.4" y2="425.3" stroke="#284576" stroke-width="0.9"/>
<line x1="390.7" y1="420.9" x2="390.7" y2="425.3" stroke="#284576" stroke-width="0.9"/>
<line x1="393.1" y1="420.9" x2="393.1" y2="425.3" stroke="#284576" stroke-width="0.9"/>
<line x1="395.3" y1="420.9" x2="395.3" y2="425.3" stroke="#284576" stroke-width="0.9"/>
<line x1="399.5" y1="420.9" x2="399.5" y2="425.3" stroke="#284576" stroke-width="0.9"/>
<line x1="401.6" y1="420.9" x2="401.6" y2="425.3" stroke="#284576" stroke-width="0.9"/>
<line x1="403.7" y1="420.9" x2="403.7" y2="425.3" stroke="#284576" stroke-width="0.9"/>
<line x1="405.8" y1="420.9" x2="405.8" y2="425.3" stroke="#284576" stroke-width="0.9"/>
<line x1="408" y1="420.9" x2="408" y2="425.3" stroke="#284576" stroke-width="0.9"/>
<line x1="410.1" y1="420.9" x2="410.1" y2="425.3" stroke="#284576" stroke-width="0.9"/>
<line x1="412.2" y1="420.9" x2="412.2" y2="425.3" stroke="#284576" stroke-width="0.9"/>
<line x1="414.3" y1="420.9" x2="414.3" y2="425.3" stroke="#284576" stroke-width="0.9"/>
<line x1="416.4" y1="420.9" x2="416.4" y2="425.3" stroke="#284576" stroke-width="0.9"/>
<line x1="420.7" y1="420.9" x2="420.7" y2="425.3" stroke="#284576" stroke-width="0.9"/>
<line x1="431.3" y1="420.9" x2="431.3" y2="425.3" stroke="#284576" stroke-width="0.9"/>
<line x1="433.4" y1="420.9" x2="433.4" y2="425.3" stroke="#284576" stroke-width="0.9"/>
<line x1="435.5" y1="420.9" x2="435.5" y2="425.3" stroke="#284576" stroke-width="0.9"/>
<line x1="447.1" y1="420.9" x2="447.1" y2="425.3" stroke="#284576" stroke-width="0.9"/>
<line x1="449.2" y1="420.9" x2="449.2" y2="425.3" stroke="#284576" stroke-width="0.9"/>
<line x1="452.4" y1="420.9" x2="452.4" y2="425.3" stroke="#284576" stroke-width="0.9"/>
<line x1="465.1" y1="420.9" x2="465.1" y2="425.3" stroke="#284576" stroke-width="0.9"/>
<line x1="467.2" y1="420.9" x2="467.2" y2="425.3" stroke="#284576" stroke-width="0.9"/>
<line x1="482" y1="420.9" x2="482" y2="425.3" stroke="#284576" stroke-width="0.9"/>
<line x1="493.7" y1="420.9" x2="493.7" y2="425.3" stroke="#284576" stroke-width="0.9"/>
<path d="M321.2,405.3 H322.2 V425.8 H323.2 V435.8 H343.4 V446.4 H392.2 V460.6 H474.6 V488.6 H474.6" fill="none" stroke="#971839" stroke-width="1.7"/>
<line x1="364.2" y1="444.2" x2="364.2" y2="448.6" stroke="#971839" stroke-width="0.9"/>
<line x1="414.3" y1="458.4" x2="414.3" y2="462.8" stroke="#971839" stroke-width="0.9"/>
<text x="58" y="477.2" font-size="8.4" text-anchor="start" fill="#333" font-weight="normal" textLength="73.2" lengthAdjust="spacingAndGlyphs">HR = 4.45 (2.08-9.54)</text>
<text x="58" y="487.2" font-size="8.4" fill="#333" textLength="73" lengthAdjust="spacingAndGlyphs">Log-rank <tspan font-style="italic">P</tspan>= .000065</text>
<text x="319.6" y="477.2" font-size="8.4" text-anchor="start" fill="#333" font-weight="normal" textLength="67.5" lengthAdjust="spacingAndGlyphs">HR = 4.60 (1.75-12)</text>
<text x="319.6" y="487.2" font-size="8.4" fill="#333" textLength="60" lengthAdjust="spacingAndGlyphs">Log-rank <tspan font-style="italic">P</tspan>= .006</text>
<text x="14.8" y="533.1" font-size="8.6" text-anchor="start" fill="#333" font-weight="normal" textLength="55.2" lengthAdjust="spacingAndGlyphs">Number at risk</text>
<text x="14.8" y="545.6" font-size="8.6" text-anchor="start" fill="#333" font-weight="normal" textLength="31.7" lengthAdjust="spacingAndGlyphs">Low–risk</text>
<text x="14.8" y="557.5" font-size="8.6" text-anchor="start" fill="#333" font-weight="normal" textLength="34.6" lengthAdjust="spacingAndGlyphs">High–risk</text>
<text x="60.3" y="545.6" font-size="8.6" text-anchor="middle" fill="#333" font-weight="normal">52</text>
<text x="60.3" y="557.5" font-size="8.6" text-anchor="middle" fill="#333" font-weight="normal">30</text>
<text x="101.9" y="545.6" font-size="8.6" text-anchor="middle" fill="#333" font-weight="normal">34</text>
<text x="101.9" y="557.5" font-size="8.6" text-anchor="middle" fill="#333" font-weight="normal">17</text>
<text x="143.9" y="545.6" font-size="8.6" text-anchor="middle" fill="#333" font-weight="normal">26</text>
<text x="143.9" y="557.5" font-size="8.6" text-anchor="middle" fill="#333" font-weight="normal">9</text>
<text x="186.3" y="545.6" font-size="8.6" text-anchor="middle" fill="#333" font-weight="normal">15</text>
<text x="186.3" y="557.5" font-size="8.6" text-anchor="middle" fill="#333" font-weight="normal">4</text>
<text x="227.6" y="545.6" font-size="8.6" text-anchor="middle" fill="#333" font-weight="normal">10</text>
<text x="227.6" y="557.5" font-size="8.6" text-anchor="middle" fill="#333" font-weight="normal">0</text>
<text x="278" y="533.1" font-size="8.6" text-anchor="start" fill="#333" font-weight="normal" textLength="56.2" lengthAdjust="spacingAndGlyphs">Number at risk</text>
<text x="278" y="545.6" font-size="8.6" text-anchor="start" fill="#333" font-weight="normal" textLength="31.7" lengthAdjust="spacingAndGlyphs">Low–risk</text>
<text x="278" y="557.5" font-size="8.6" text-anchor="start" fill="#333" font-weight="normal" textLength="34.6" lengthAdjust="spacingAndGlyphs">High–risk</text>
<text x="321.5" y="545.6" font-size="8.6" text-anchor="middle" fill="#333" font-weight="normal">64</text>
<text x="321.5" y="557.5" font-size="8.6" text-anchor="middle" fill="#333" font-weight="normal">8</text>
<text x="363.2" y="545.6" font-size="8.6" text-anchor="middle" fill="#333" font-weight="normal">47</text>
<text x="363.2" y="557.5" font-size="8.6" text-anchor="middle" fill="#333" font-weight="normal">4</text>
<text x="405" y="545.6" font-size="8.6" text-anchor="middle" fill="#333" font-weight="normal">23</text>
<text x="405" y="557.5" font-size="8.6" text-anchor="middle" fill="#333" font-weight="normal">2</text>
<text x="447" y="545.6" font-size="8.6" text-anchor="middle" fill="#333" font-weight="normal">10</text>
<text x="447" y="557.5" font-size="8.6" text-anchor="middle" fill="#333" font-weight="normal">1</text>
<text x="488.7" y="545.6" font-size="8.6" text-anchor="middle" fill="#333" font-weight="normal">3</text>
<text x="488.7" y="557.5" font-size="8.6" text-anchor="middle" fill="#333" font-weight="normal">0</text>
<rect x="0" y="0" width="520" height="567" fill="none" stroke="#000" stroke-width="3"/>
</svg>
</body></html>
